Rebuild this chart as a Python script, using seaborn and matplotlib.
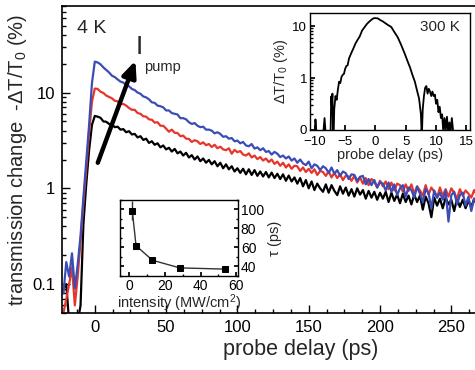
import numpy as np
import pandas as pd
import matplotlib
matplotlib.use("Agg")
import matplotlib.pyplot as plt
from matplotlib.ticker import (FixedLocator, FixedFormatter, LogLocator,
                               MultipleLocator, NullFormatter)
import seaborn as sns

# ---------------- 4 K pump-probe traces (three pump intensities) ----------------
delay = np.arange(-22, 269, 2)  # probe delay grid, ps

trace_low = [  # black, lowest pump intensity
    0.09, 0.1, 0.04, 0.04, 0.04, 0.04, 0.06, 0.42, 1.1, 2.5, 4.6,
    5.7,
    5.6, 5.45, 5.0, 4.95, 4.7, 4.65, 4.35, 4.4, 4.1, 4.15,
    3.85, 3.95, 3.65, 3.7, 3.4, 3.5, 3.2, 3.3, 2.98, 3.1,
    2.85, 2.95, 2.68, 2.8, 2.55, 2.65, 2.42, 2.58, 2.32, 2.42,
    2.2, 2.35, 2.1, 2.22, 2.0, 2.15, 1.92, 2.05, 1.85, 1.98,
    1.78, 1.92, 1.7, 1.85, 1.62, 1.78, 1.58, 1.7, 1.5, 1.62,
    1.45, 1.6, 1.4, 1.58, 1.38, 1.55, 1.35, 1.5, 1.33, 1.48,
    1.3, 1.46, 1.28, 1.42, 1.25, 1.4, 1.2, 1.36, 1.18, 1.3,
    1.12, 1.28, 1.05, 1.22, 1.0, 1.18, 0.96, 1.12, 1.0, 0.92,
    1.1, 0.9, 1.08, 0.94, 0.85, 1.05, 0.88, 1.02, 0.84, 0.98,
    0.82, 1.0, 0.86, 0.96, 0.78, 0.94, 0.8, 0.92, 0.76, 0.9,
    0.78, 0.92, 0.72, 0.9, 0.74, 0.86, 0.7, 0.88, 0.72, 0.84,
    0.68, 0.86, 0.72, 0.84, 0.6, 0.82, 0.7, 0.5, 0.8, 0.66,
    0.78, 0.62, 0.8, 0.68, 0.76, 0.58, 0.78, 0.64, 0.76, 0.62,
    0.74, 0.64, 0.78, 0.66,
]
trace_mid = [  # red
    0.05, 0.07, 0.1, 0.15, 0.06, 0.12, 0.28, 0.7, 1.6, 3.8, 8.0,
    11.0,
    10.9, 10.2, 9.9, 9.3, 9.0, 8.7, 8.2, 8.1, 7.6, 7.6,
    7.3, 6.9, 6.6, 6.6, 6.1, 6.0, 5.65, 5.6, 5.25, 5.2,
    4.85, 4.9, 4.5, 4.5, 4.2, 3.9, 4.1, 3.8, 3.78, 3.5,
    3.55, 3.3, 3.28, 3.05, 3.18, 3.1, 2.9, 3.02, 2.82, 2.9,
    2.7, 2.85, 2.62, 2.72, 2.55, 2.5, 2.62, 2.3, 2.52, 2.38,
    2.45, 2.25, 2.2, 2.32, 2.1, 2.2, 2.02, 2.12, 1.95, 2.05,
    1.88, 2.0, 1.8, 1.9, 1.72, 1.85, 1.65, 1.78, 1.6, 1.72,
    1.7, 1.52, 1.65, 1.48, 1.6, 1.45, 1.58, 1.38, 1.52, 1.48,
    1.35, 1.5, 1.3, 1.45, 1.28, 1.4, 1.22, 1.36, 1.33, 1.2,
    1.35, 1.15, 1.3, 1.12, 1.28, 1.08, 1.25, 1.18, 1.02, 1.2,
    1.05, 1.18, 0.98, 1.15, 0.95, 1.12, 1.08, 0.92, 1.1, 0.94,
    1.1, 0.88, 1.05, 0.95, 0.84, 1.08, 0.86, 1.02, 0.92, 0.8,
    1.02, 0.84, 0.98, 0.82, 1.0, 0.9, 0.78, 0.98, 0.84, 0.95,
    0.88, 0.8, 0.96, 0.84,
]
trace_high = [  # blue, highest pump intensity
    0.08, 0.17, 0.12, 0.21, 0.09, 0.16, 0.32, 0.8, 1.9, 4.6, 12.5,
    21.0,
    20.6, 19.7, 18.3, 17.2, 16.2, 15.0, 14.5, 13.7, 13.0, 12.7,
    12.0, 11.6, 10.9, 10.6, 10.0, 9.7, 9.1, 8.9, 8.5, 7.9,
    7.8, 7.3, 7.2, 7.0, 6.5, 6.5, 6.1, 6.0, 5.9, 5.4,
    5.4, 5.25, 4.9, 4.7, 4.8, 4.5, 4.35, 4.4, 4.1, 4.1,
    4.0, 3.75, 3.85, 3.7, 3.45, 3.5, 3.3, 3.35, 3.1, 3.15,
    2.95, 3.05, 2.8, 2.75, 2.9, 2.6, 2.68, 2.5, 2.62, 2.4,
    2.45, 2.25, 2.4, 2.3, 2.12, 2.2, 2.05, 2.15, 1.95, 2.05,
    1.85, 2.0, 1.82, 1.75, 1.9, 1.62, 1.78, 1.72, 1.55, 1.7,
    1.62, 1.45, 1.65, 1.42, 1.55, 1.35, 1.5, 1.44, 1.25, 1.4,
    1.38, 1.2, 1.32, 1.35, 1.1, 1.25, 1.08, 1.22, 1.02, 1.16,
    1.12, 0.95, 1.15, 0.92, 1.1, 0.85, 1.0, 1.08, 0.82, 1.02,
    0.96, 0.8, 1.04, 0.88, 0.72, 0.98, 0.9, 0.62, 0.95, 0.8,
    0.9, 0.76, 0.95, 0.45, 0.85, 0.92, 0.68, 0.85, 0.9, 0.66,
    0.82, 0.58, 0.78, 0.72,
]
main_yticks = [0.1, 1, 10]
main_yticklabels = ["0.1", "1", "10"]

# ---------------- 300 K trace ----------------
delay_300 = [-10.0, -9.9, -9.7, -8.6, -8.4, -8.2, -7.4, -7.3, -7.2, -7.1, -7.0,
             -6.9, -6.8, -6.6, -6.4, -6.2, -6.0, -5.8, -5.6, -5.4, -5.2, -5.0,
             -4.8, -4.6, -4.35, -4.0, -3.6, -3.3, -3.0, -2.6, -2.2, -1.8, -1.4,
             -1.0, -0.6, -0.3, 0.0, 0.4, 0.8, 1.2, 1.6, 2.1, 2.6, 3.2, 3.7,
             4.25, 4.8, 5.3, 5.7, 6.1, 6.5, 6.9, 7.2, 7.5, 7.6, 7.7, 7.8, 8.0,
             8.2, 8.4, 8.6, 8.8, 9.0, 9.2, 9.4, 9.6, 9.8, 10.0, 10.2, 10.4,
             10.6, 10.8, 11.0, 11.2, 11.4, 11.6, 11.8, 12.0, 12.2, 12.4, 12.6,
             12.8]
signal_300 = [0.09, 0.16, 0.08, 0.09, 0.17, 0.08, 0.09, 0.44, 0.3, 0.5, 0.09,
              0.08, 0.25, 0.45, 0.38, 0.6, 0.85, 0.8, 1.05, 1.15, 1.2, 1.5,
              1.7, 1.75, 2.4, 3.0, 3.8, 4.6, 5.3, 6.3, 8.2, 9.5, 11.0,
              12.2, 13.4, 14.1, 14.2, 14.0, 13.0, 12.3, 11.4, 10.4, 9.6, 7.4, 6.0,
              4.3, 3.0, 2.1, 1.6, 1.15, 0.85, 0.55, 0.4, 0.2, 0.1, 0.11, 0.25, 0.45,
              0.65, 0.7, 0.5, 0.62, 0.55, 0.45, 0.55, 0.45, 0.48, 0.32, 0.38, 0.22,
              0.28, 0.17, 0.2, 0.09, 0.17, 0.1, 0.18, 0.09, 0.14, 0.09, 0.17,
              0.1]
inset_yticks = [0.1, 1, 10]
inset_yticklabels = ["0", "1", "10"]

# ---------------- decay time vs pump intensity ----------------
intensity = [1.7, 3.8, 13.0, 28.3, 53.5]      # MW/cm^2
tau = [98.5, 61.5, 46.2, 38.1, 36.8]          # ps
tau_err = [10.0, 1.5, 1.0, 1.0, 1.0]

sns.set_theme(style="ticks")
plt.rcParams["font.family"] = ["Liberation Sans", "DejaVu Sans"]
plt.rcParams["mathtext.fontset"] = "custom"
plt.rcParams["mathtext.rm"] = "Liberation Sans"
plt.rcParams["mathtext.it"] = "Liberation Sans:italic"
plt.rcParams["axes.edgecolor"] = "black"
plt.rcParams["xtick.color"] = "black"
plt.rcParams["ytick.color"] = "black"

W, H = 475, 370
fig = plt.figure(figsize=(W / 100, H / 100), dpi=100)
fig.patch.set_facecolor("white")


def px_axes(left, top, right, bottom):
    return fig.add_axes([left / W, 1 - bottom / H, (right - left) / W, (bottom - top) / H])


# ---- main panel ----
ax = px_axes(62, 6, 477, 313)
ax.set_yscale("log")
df = pd.DataFrame({"delay": delay, "low": trace_low, "mid": trace_mid, "high": trace_high})
for col, colour in [("low", "black"), ("mid", "#e6352b"), ("high", "#3b4cb5")]:
    sns.lineplot(data=df, x="delay", y=col, color=colour, lw=1.6, ax=ax)
ax.set_xlim(-23, 268)
ax.set_ylim(0.05, 80)
ax.xaxis.set_major_locator(MultipleLocator(50))
ax.xaxis.set_minor_locator(MultipleLocator(12.5))
ax.yaxis.set_major_locator(FixedLocator(main_yticks))
ax.yaxis.set_major_formatter(FixedFormatter(main_yticklabels))
ax.yaxis.set_minor_locator(LogLocator(base=10, subs=np.arange(2, 10) * 1.0, numticks=20))
ax.yaxis.set_minor_formatter(NullFormatter())
ax.tick_params(which="both", direction="in", top=False, right=False, width=1.0)
ax.tick_params(which="major", length=6, labelsize=12, pad=5)
ax.tick_params(which="minor", length=3)
ax.spines["right"].set_visible(False)
for s in ["left", "bottom", "top"]:
    ax.spines[s].set_linewidth(1.2)
ax.set_xlabel("probe delay (ps)", fontsize=15.5)
ax.set_ylabel("transmission change  -ΔT/T$_0$ (%)", fontsize=14.5)
ax.xaxis.set_label_coords(0.575, -0.085)
ax.yaxis.set_label_coords(-0.08, 0.5)
ax.text(0.036, 0.928, "4 K", transform=ax.transAxes, fontsize=14, va="center", ha="left")
ax.annotate("", xy=(28.5, 21.5), xytext=(2.1, 1.85),
            arrowprops=dict(arrowstyle="-|>,head_length=0.8,head_width=0.35",
                            lw=3.2, color="black", shrinkA=0, shrinkB=0))
ax.text(0.178, 0.865, "I", transform=ax.transAxes, fontsize=19, va="center", ha="left")
ax.text(0.198, 0.800, "pump", transform=ax.transAxes, fontsize=10.5, va="center", ha="left")

# ---- 300 K inset ----
ax1 = px_axes(310, 13, 470, 130)
ax1.set_yscale("log")
sns.lineplot(x=delay_300, y=signal_300, color="black", lw=1.3, ax=ax1)
ax1.set_xlim(-10.8, 15.6)
ax1.set_ylim(0.1, 17.8)
ax1.xaxis.set_major_locator(MultipleLocator(5))
ax1.yaxis.set_major_locator(FixedLocator(inset_yticks))
ax1.yaxis.set_major_formatter(FixedFormatter(inset_yticklabels))
ax1.yaxis.set_minor_locator(LogLocator(base=10, subs=np.arange(2, 10) * 1.0, numticks=20))
ax1.yaxis.set_minor_formatter(NullFormatter())
ax1.tick_params(which="both", direction="in", labelsize=9.5, pad=2)
ax1.tick_params(axis="x", which="major", pad=4)
ax1.tick_params(which="major", length=3.5)
ax1.tick_params(which="minor", length=2)
for s in ax1.spines.values():
    s.set_linewidth(1.0)
ax1.set_xlabel("probe delay (ps)", fontsize=10.5, labelpad=0)
ax1.set_ylabel("ΔT/T$_0$ (%)", fontsize=10.5, labelpad=2)
ax1.text(0.81, 0.88, "300 K", transform=ax1.transAxes, fontsize=11, ha="center", va="center")

# ---- tau vs intensity inset ----
ax2 = px_axes(120, 200, 238, 276)
ax2.errorbar(intensity, tau, yerr=tau_err, fmt="none", ecolor="#333333", elinewidth=1.0, capsize=0)
sns.lineplot(x=intensity, y=tau, color="#333333", lw=1.0, marker="s", markersize=5,
             markerfacecolor="black", markeredgecolor="black", ax=ax2)
ax2.set_xlim(-5.2, 61)
ax2.set_ylim(29.5, 110)
ax2.xaxis.set_major_locator(MultipleLocator(20))
ax2.xaxis.set_minor_locator(MultipleLocator(10))
ax2.yaxis.set_major_locator(MultipleLocator(20))
ax2.yaxis.set_minor_locator(MultipleLocator(10))
ax2.yaxis.tick_right()
ax2.yaxis.set_label_position("right")
ax2.tick_params(which="both", direction="in", labelsize=10, pad=2, left=True, right=True)
ax2.tick_params(which="major", length=3)
ax2.tick_params(which="minor", length=1.5)
for s in ax2.spines.values():
    s.set_linewidth(1.0)
ax2.set_xlabel("intensity (MW/cm$^2$)", fontsize=10.5, labelpad=0)
ax2.set_ylabel("τ (ps)", fontsize=10.5, labelpad=3)

fig.savefig("out.png", dpi=100, facecolor="white")
